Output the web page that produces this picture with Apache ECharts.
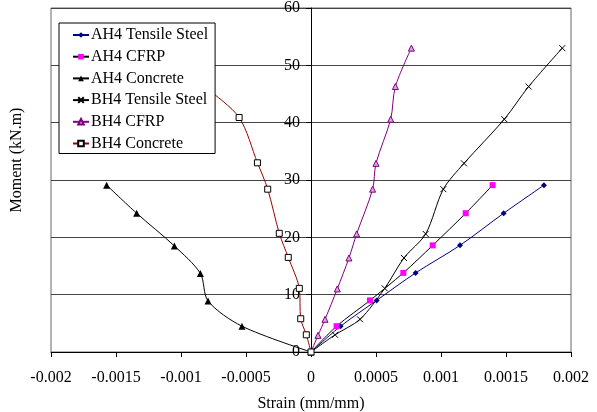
<!DOCTYPE html>
<html>
<head>
<meta charset="utf-8">
<script src="https://cdn.jsdelivr.net/npm/echarts@6/dist/echarts.min.js"></script>
<style>html,body{margin:0;padding:0;background:#fff;}#chart{width:597px;height:412px;}</style>
</head>
<body>
<div id="chart"></div>
<script>
// Tick labels
const xTickLabels = ['-0.002', '-0.0015', '-0.001', '-0.0005', '0', '0.0005', '0.001', '0.0015', '0.002'];
const yTickLabels = ['0', '10', '20', '30', '40', '50', '60'];

// Series names
const seriesNames = ['AH4 Tensile Steel', 'AH4 CFRP', 'AH4 Concrete', 'BH4 Tensile Steel', 'BH4 CFRP', 'BH4 Concrete'];

// AH4 data
const ah4SteelStrain    = [0, 0.000228, 0.000505, 0.000805, 0.001146, 0.001482, 0.001792];
const ah4SteelMoment    = [0, 4.5, 9.0, 13.8, 18.6, 24.2, 29.1];
const ah4CfrpStrain     = [0, 0.000197, 0.000454, 0.000710, 0.000936, 0.001190, 0.001397];
const ah4CfrpMoment     = [0, 4.5, 9.0, 13.8, 18.6, 24.2, 29.1];
const ah4ConcStrain     = [0, -0.000531, -0.000792, -0.000851, -0.001051, -0.001341, -0.001572];
const ah4ConcMoment     = [0, 4.5, 8.9, 13.7, 18.5, 24.2, 29.1];

// BH4 data
const bh4SteelStrain    = [0, 0.000185, 0.000377, 0.000567, 0.000715, 0.000882, 0.001018, 0.001177, 0.001487, 0.001674, 0.001933];
const bh4SteelMoment    = [0, 3.0, 5.7, 11.1, 16.4, 20.6, 28.4, 32.9, 40.6, 46.3, 53.0];
const bh4CfrpStrain     = [0, 0.000054, 0.000108, 0.000202, 0.000292, 0.000351, 0.000474, 0.000500, 0.000613, 0.000649, 0.000772];
const bh4CfrpMoment     = [0, 2.9, 5.7, 11.0, 16.4, 20.6, 28.4, 32.9, 40.6, 46.3, 53.0];
const bh4ConcStrain     = [0, -0.000036, -0.000079, -0.000090, -0.000175, -0.000244, -0.000333, -0.000412, -0.000553, -0.000813, -0.00112];
const bh4ConcMoment     = [0, 3.0, 5.8, 11.1, 16.5, 20.7, 28.4, 33.0, 40.9, 46.3, 53.0];

const xMin = -0.002, xMax = 0.002, xStep = 0.0005;
const yMin = 0, yMax = 60, yStep = 10;

function pairs(xs, ys) { return xs.map((x, i) => [x, ys[i]]); }

const FONT = '"Liberation Serif", "Times New Roman", serif';
const crossPath = 'path://M0,0L10,10M10,0L0,10';

const GRID_LEFT = 51, GRID_RIGHT = 26, GRID_TOP = 8, GRID_BOTTOM = 60;
const CHART_W = 597;
// horizontal pixel position of strain = 0 inside the grid, used to move the value axis onto x = 0
const plotW = CHART_W - GRID_LEFT - GRID_RIGHT;
const zeroOffset = plotW * (0 - xMin) / (xMax - xMin);

const chart = echarts.init(document.getElementById('chart'), null, { renderer: 'canvas' });

function lineSeries(name, data, lineColor, symbol, symbolSize, itemStyle) {
  return {
    name: name,
    type: 'line',
    data: data,
    smooth: 0.3,
    symbol: symbol,
    symbolSize: symbolSize,
    showAllSymbol: true,
    lineStyle: { color: lineColor, width: 1 },
    itemStyle: itemStyle,
    emphasis: { disabled: true },
    animation: false
  };
}

const option = {
  animation: false,
  backgroundColor: '#fff',
  textStyle: { fontFamily: FONT },
  grid: {
    left: GRID_LEFT, right: GRID_RIGHT, top: GRID_TOP, bottom: GRID_BOTTOM,
    containLabel: false,
    outerBoundsMode: 'none',
    show: true, borderColor: '#666', borderWidth: 1, backgroundColor: 'transparent'
  },
  legend: {
    orient: 'vertical',
    left: 59, top: 23,
    padding: [4, 7, 2, 13],
    itemWidth: 16, itemHeight: 7, itemGap: 5.7,
    backgroundColor: '#fff',
    borderColor: '#000', borderWidth: 1, borderRadius: 0,
    textStyle: { fontFamily: FONT, fontSize: 16, color: '#000', padding: [0, 0, 0, -3] },
    data: seriesNames,
    z: 10
  },
  xAxis: {
    type: 'value',
    min: xMin, max: xMax, interval: xStep,
    name: 'Strain (mm/mm)',
    nameLocation: 'middle',
    nameGap: 44,
    nameTextStyle: { fontFamily: FONT, fontSize: 16, color: '#000' },
    axisLine: { show: true, onZero: false, lineStyle: { color: '#000', width: 1 } },
    axisTick: { show: true, length: 5, lineStyle: { color: '#000' } },
    axisLabel: {
      fontFamily: FONT, fontSize: 16, color: '#000', margin: 18,
      formatter: function (v) { return xTickLabels[Math.round((v - xMin) / xStep)]; }
    },
    splitLine: { show: false }
  },
  yAxis: {
    type: 'value',
    min: yMin, max: yMax, interval: yStep,
    position: 'left',
    offset: -zeroOffset,
    axisLine: { show: true, onZero: false, lineStyle: { color: '#000', width: 1 } },
    axisTick: { show: true, length: 5, lineStyle: { color: '#000' } },
    axisLabel: {
      fontFamily: FONT, fontSize: 16, color: '#000', margin: 11,
      formatter: function (v) { return yTickLabels[Math.round((v - yMin) / yStep)]; }
    },
    splitLine: { show: true, lineStyle: { color: '#444', width: 1 } }
  },
  graphic: [{
    type: 'text',
    x: 17, y: 160,
    rotation: Math.PI / 2,
    style: {
      text: 'Moment (kN.m)',
      font: '16px ' + FONT,
      fill: '#000',
      align: 'center', verticalAlign: 'middle',
      textAlign: 'center', textVerticalAlign: 'middle'
    }
  }],
  series: [
    lineSeries(seriesNames[0], pairs(ah4SteelStrain, ah4SteelMoment), '#000080', 'diamond', 6,
      { color: '#000080' }),
    lineSeries(seriesNames[1], pairs(ah4CfrpStrain, ah4CfrpMoment), '#000', 'rect', 6,
      { color: '#ff00ff' }),
    lineSeries(seriesNames[2], pairs(ah4ConcStrain, ah4ConcMoment), '#000', 'triangle', 7,
      { color: '#000' }),
    lineSeries(seriesNames[3], pairs(bh4SteelStrain, bh4SteelMoment), '#000', crossPath, 6,
      { color: 'rgba(0,0,0,0)', borderColor: '#000', borderWidth: 1 }),
    lineSeries(seriesNames[4], pairs(bh4CfrpStrain, bh4CfrpMoment), '#800080', 'triangle', 6,
      { color: '#d9a6d9', borderColor: '#800080', borderWidth: 1 }),
    lineSeries(seriesNames[5], pairs(bh4ConcStrain, bh4ConcMoment), '#990000', 'rect', 6,
      { color: '#fff', borderColor: '#000', borderWidth: 1 })
  ]
};

chart.setOption(option);
</script>
</body>
</html>
